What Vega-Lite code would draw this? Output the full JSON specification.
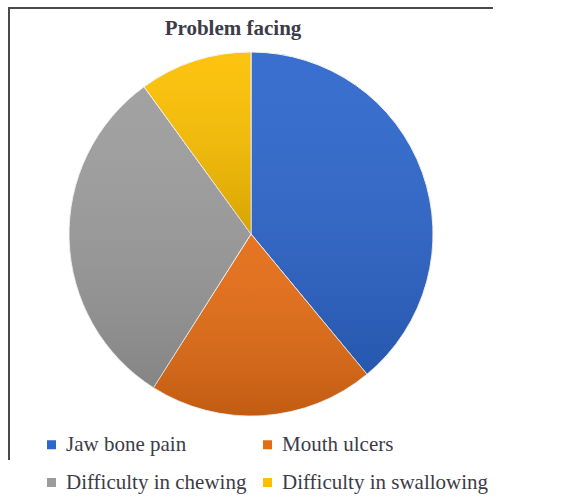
{
  "$schema": "https://vega.github.io/schema/vega-lite/v6.json",
  "width": 484,
  "height": 452,
  "autosize": "none",
  "padding": {"left": 9, "top": 8, "right": 85, "bottom": 44},
  "background": "white",
  "title": {
    "text": "Problem facing",
    "font": "Liberation Serif",
    "fontSize": 21,
    "fontWeight": "bold",
    "color": "#3c3c48",
    "anchor": "middle",
    "baseline": "alphabetic",
    "offset": 0,
    "dx": -18,
    "dy": 48
  },
  "data": {
    "values": [
      {"problem": "Jaw bone pain", "share": 39, "rank": 1},
      {"problem": "Mouth ulcers", "share": 20, "rank": 2},
      {"problem": "Difficulty in chewing", "share": 31, "rank": 3},
      {"problem": "Difficulty in swallowing", "share": 10, "rank": 4}
    ]
  },
  "layer": [
    {
      "mark": {"type": "rule", "opacity": 0},
      "encoding": {
        "x": {"datum": 0, "type": "quantitative", "axis": null}
      }
    },
    {
      "mark": {"type": "arc", "outerRadius": 182, "stroke": "#f2f2f2", "strokeWidth": 1},
      "encoding": {
        "theta": {"field": "share", "type": "quantitative", "stack": true},
        "order": {"field": "rank", "type": "quantitative"},
        "color": {
          "field": "problem",
          "type": "nominal",
          "scale": {
            "domain": ["Jaw bone pain", "Mouth ulcers", "Difficulty in chewing", "Difficulty in swallowing"],
            "range": ["#2d66cc", "#e46c14", "#9c9c9c", "#fcc000"]
          },
          "legend": {
            "orient": "none",
            "legendX": 32,
            "legendY": 426,
            "direction": "horizontal",
            "columns": 2,
            "title": null,
            "padding": 0,
            "symbolType": "square",
            "symbolSize": 81,
            "symbolStrokeWidth": 0,
            "symbolOpacity": 1,
            "labelFont": "Liberation Serif",
            "labelFontSize": 21,
            "labelColor": "#3c3c48",
            "labelOffset": 4,
            "labelLimit": 300,
            "columnPadding": 10,
            "rowPadding": 16
          }
        }
      }
    },
    {
      "mark": {
        "type": "arc",
        "outerRadius": 182,
        "fill": {
          "gradient": "linear",
          "x1": 0, "y1": 0, "x2": 0, "y2": 1,
          "stops": [
            {"offset": 0, "color": "rgba(255,255,255,0.06)"},
            {"offset": 1, "color": "rgba(0,0,0,0.15)"}
          ]
        }
      },
      "encoding": {
        "theta": {"field": "share", "type": "quantitative", "stack": true},
        "order": {"field": "rank", "type": "quantitative"}
      }
    }
  ],
  "config": {
    "font": "Liberation Serif",
    "view": {"stroke": "#4a4a4a", "strokeWidth": 2, "strokeDash": [484, 936, 454]}
  }
}
